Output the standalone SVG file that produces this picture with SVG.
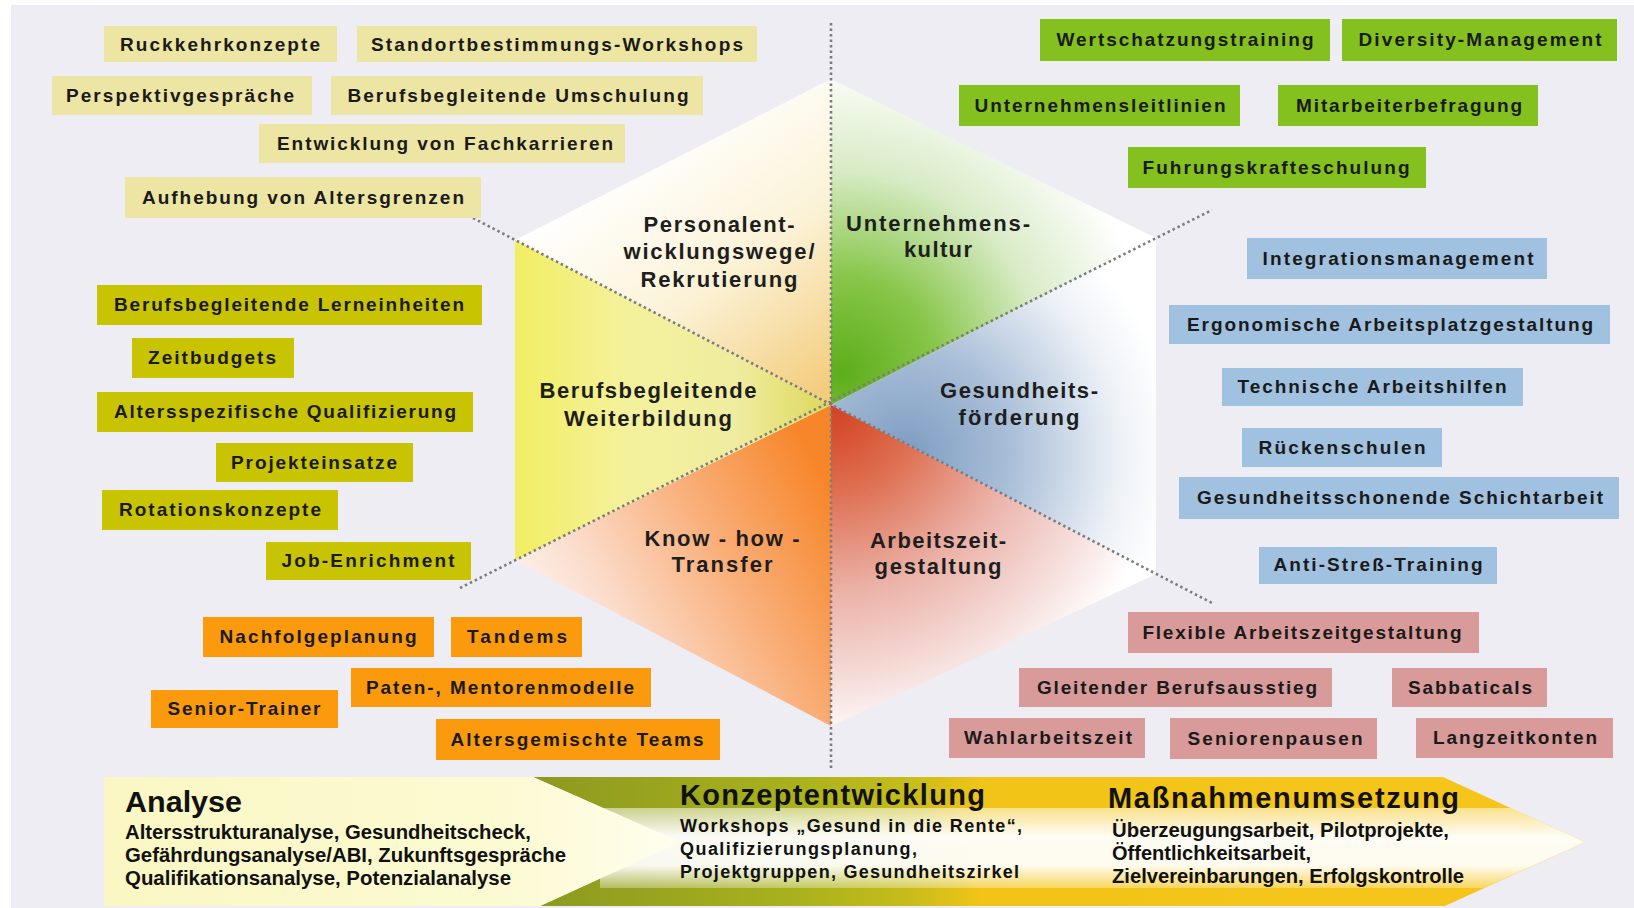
<svg xmlns="http://www.w3.org/2000/svg" width="1634" height="908" viewBox="0 0 1634 908">
<defs>
<style>
.bx text{font-family:"Liberation Sans",Arial,sans-serif;font-weight:bold;font-size:19px;fill:#1a1a1a;text-anchor:middle}
.kh rect{fill:#EDE5A4}
.ol rect{fill:#C8C402}
.or rect{fill:#FA9A0C}
.gr rect{fill:#84C11F}
.bl rect{fill:#A0C1E0}
.pk rect{fill:#D99A9A}
.sl{font-family:"Liberation Sans",Arial,sans-serif;font-weight:bold;font-size:22px;fill:#1e1e1e;text-anchor:middle}
.ph{font-family:"Liberation Sans",Arial,sans-serif;font-weight:bold;fill:#111}
.ph .t{font-size:29px}
.ph .s{font-size:18px}
.ph .n{font-size:20px}
.dot{fill:none;stroke:#7c7c80;stroke-width:2.6;stroke-dasharray:2.5 3}
</style>
<linearGradient id="gS1" gradientUnits="userSpaceOnUse" x1="640" y1="150" x2="815" y2="395">
<stop offset="0" stop-color="#FFFFFF"/><stop offset="0.5" stop-color="#FBF2D6"/><stop offset="1" stop-color="#F3CD7E"/>
</linearGradient>
<radialGradient id="gS2" gradientUnits="userSpaceOnUse" cx="842" cy="372" r="310">
<stop offset="0" stop-color="#5DAE1A"/><stop offset="0.3" stop-color="#86C548"/><stop offset="0.65" stop-color="#D8EBC6"/><stop offset="1" stop-color="#FFFFFF"/>
</radialGradient>
<radialGradient id="gS3" gradientUnits="userSpaceOnUse" cx="905" cy="455" r="270">
<stop offset="0" stop-color="#7D9CC2"/><stop offset="0.4" stop-color="#AABFD8"/><stop offset="0.8" stop-color="#EEF2F7"/><stop offset="1" stop-color="#FFFFFF"/>
</radialGradient>
<radialGradient id="gS4" gradientUnits="userSpaceOnUse" cx="831" cy="405" r="340">
<stop offset="0" stop-color="#D2401F"/><stop offset="0.25" stop-color="#DE6E50"/><stop offset="0.55" stop-color="#EBB2A8"/><stop offset="0.85" stop-color="#F7E4E2"/><stop offset="1" stop-color="#FFFFFF"/>
</radialGradient>
<linearGradient id="gS5" gradientUnits="userSpaceOnUse" x1="831" y1="490" x2="560" y2="640">
<stop offset="0" stop-color="#F7862A"/><stop offset="0.4" stop-color="#F9AE78"/><stop offset="0.8" stop-color="#FBDCCB"/><stop offset="1" stop-color="#FDEEE6"/>
</linearGradient>
<linearGradient id="gS6" gradientUnits="userSpaceOnUse" x1="515" y1="0" x2="831" y2="0">
<stop offset="0" stop-color="#F2EE62"/><stop offset="0.35" stop-color="#F4F19C"/><stop offset="0.7" stop-color="#F0ECA0"/><stop offset="1" stop-color="#DCD85A"/>
</linearGradient>
<linearGradient id="gArrow" gradientUnits="userSpaceOnUse" x1="540" y1="0" x2="1500" y2="0">
<stop offset="0" stop-color="#8C9A20"/><stop offset="0.27" stop-color="#A9B21C"/><stop offset="0.38" stop-color="#C5BC1A"/><stop offset="0.46" stop-color="#F2C417"/><stop offset="1" stop-color="#F6C51C"/>
</linearGradient>
<linearGradient id="gStreak" gradientUnits="userSpaceOnUse" x1="0" y1="808" x2="0" y2="888">
<stop offset="0" stop-color="#FFFFFF" stop-opacity="0.5"/><stop offset="0.35" stop-color="#FFFFFF" stop-opacity="0.95"/><stop offset="0.72" stop-color="#FFFFFF" stop-opacity="0.93"/><stop offset="1" stop-color="#FFFFFF" stop-opacity="0.3"/>
</linearGradient>
<linearGradient id="gPale" gradientUnits="userSpaceOnUse" x1="104" y1="0" x2="680" y2="0">
<stop offset="0" stop-color="#FAF7C4"/><stop offset="0.7" stop-color="#FCFAD2"/><stop offset="1" stop-color="#FFFEEE"/>
</linearGradient>
</defs>

<rect x="0" y="0" width="1634" height="908" fill="#FFFFFF"/>
<rect x="11" y="5" width="1623" height="903" fill="#EEEDF3"/>

<g id="hexagon">
<polygon points="831,405 515,240 831,79" fill="url(#gS1)"/>
<polygon points="831,405 831,79 1156,238" fill="url(#gS2)"/>
<polygon points="831,405 1156,238 1156,574" fill="url(#gS3)"/>
<polygon points="831,405 1156,574 831,726" fill="url(#gS4)"/>
<polygon points="831,405 831,726 515,560" fill="url(#gS5)"/>
<polygon points="831,405 515,560 515,240" fill="url(#gS6)"/>
</g>

<g id="connectors">
<line class="dot" x1="831" y1="23" x2="831" y2="769"/>
<line class="dot" x1="473" y1="218" x2="1212" y2="603"/>
<line class="dot" x1="460" y1="588" x2="1212" y2="210"/>
</g>

<g id="sector-labels">
<text class="sl" x="719" y="232" textLength="151">Personalent-</text>
<text class="sl" x="719" y="259" textLength="191">wicklungswege/</text>
<text class="sl" x="719" y="287" textLength="157">Rekrutierung</text>
<text class="sl" x="938" y="231" textLength="184">Unternehmens-</text>
<text class="sl" x="938" y="257" textLength="68">kultur</text>
<text class="sl" x="648" y="398" textLength="217">Berufsbegleitende</text>
<text class="sl" x="648" y="426" textLength="168">Weiterbildung</text>
<text class="sl" x="1019" y="398" textLength="158">Gesundheits-</text>
<text class="sl" x="1019" y="425" textLength="121">förderung</text>
<text class="sl" x="722" y="546" textLength="155">Know - how -</text>
<text class="sl" x="722" y="572" font-size="20" textLength="101">Transfer</text>
<text class="sl" x="938" y="548" textLength="136">Arbeitszeit-</text>
<text class="sl" x="938" y="574" font-size="20" textLength="127">gestaltung</text>
</g>

<g class="bx kh">
<g id="n-rueckkehr"><rect x="104" y="26" width="233" height="36"/><text x="220" y="51" textLength="200">Ruckkehrkonzepte</text></g>
<g id="n-standort"><rect x="357" y="26" width="400" height="36"/><text x="557" y="51" textLength="372">Standortbestimmungs-Workshops</text></g>
<g id="n-perspektiv"><rect x="52" y="76" width="260" height="39"/><text x="180" y="102" textLength="228">Perspektivgespräche</text></g>
<g id="n-umschulung"><rect x="331" y="76" width="372" height="39"/><text x="518" y="102" textLength="341">Berufsbegleitende Umschulung</text></g>
<g id="n-fachkarrieren"><rect x="259" y="124" width="366" height="39"/><text x="445" y="150" textLength="336">Entwicklung von Fachkarrieren</text></g>
<g id="n-altersgrenzen"><rect x="125" y="177" width="356" height="41"/><text x="303" y="204" textLength="322">Aufhebung von Altersgrenzen</text></g>
</g>

<g class="bx ol">
<g id="n-lerneinheiten"><rect x="97" y="285" width="385" height="40"/><text x="289" y="311" textLength="350">Berufsbegleitende Lerneinheiten</text></g>
<g id="n-zeitbudgets"><rect x="132" y="338" width="162" height="40"/><text x="212" y="364" textLength="128">Zeitbudgets</text></g>
<g id="n-qualifizierung"><rect x="97" y="392" width="376" height="40"/><text x="285" y="418" textLength="342">Altersspezifische Qualifizierung</text></g>
<g id="n-projekteinsatze"><rect x="216" y="443" width="197" height="39"/><text x="314" y="469" textLength="166">Projekteinsatze</text></g>
<g id="n-rotation"><rect x="102" y="490" width="236" height="40"/><text x="220" y="516" textLength="202">Rotationskonzepte</text></g>
<g id="n-jobenrichment"><rect x="266" y="542" width="205" height="38"/><text x="368" y="567" font-size="17" textLength="173">Job-Enrichment</text></g>
</g>

<g class="bx or">
<g id="n-nachfolge"><rect x="203" y="617" width="231" height="40"/><text x="318" y="643" textLength="197">Nachfolgeplanung</text></g>
<g id="n-tandems"><rect x="451" y="617" width="131" height="40"/><text x="517" y="643" textLength="100">Tandems</text></g>
<g id="n-paten"><rect x="351" y="668" width="300" height="39"/><text x="500" y="694" textLength="268">Paten-, Mentorenmodelle</text></g>
<g id="n-senior"><rect x="151" y="690" width="187" height="38"/><text x="244" y="715" textLength="153">Senior-Trainer</text></g>
<g id="n-teams"><rect x="436" y="719" width="284" height="41"/><text x="577" y="746" textLength="253">Altersgemischte Teams</text></g>
</g>

<g class="bx gr">
<g id="n-wertschatzung"><rect x="1040" y="19" width="290" height="42"/><text x="1185" y="46" textLength="257">Wertschatzungstraining</text></g>
<g id="n-diversity"><rect x="1342" y="19" width="275" height="42"/><text x="1480" y="46" textLength="243">Diversity-Management</text></g>
<g id="n-leitlinien"><rect x="959" y="85" width="281" height="41"/><text x="1100" y="112" textLength="251">Unternehmensleitlinien</text></g>
<g id="n-befragung"><rect x="1278" y="85" width="260" height="41"/><text x="1409" y="112" textLength="226">Mitarbeiterbefragung</text></g>
<g id="n-fuhrung"><rect x="1128" y="147" width="298" height="41"/><text x="1276" y="174" textLength="267">Fuhrungskrafteschulung</text></g>
</g>

<g class="bx bl">
<g id="n-integration"><rect x="1247" y="238" width="300" height="41"/><text x="1398" y="265" textLength="271">Integrationsmanagement</text></g>
<g id="n-ergonomie"><rect x="1169" y="305" width="441" height="39"/><text x="1390" y="331" textLength="406">Ergonomische Arbeitsplatzgestaltung</text></g>
<g id="n-technisch"><rect x="1222" y="368" width="301" height="38"/><text x="1372" y="393" textLength="269">Technische Arbeitshilfen</text></g>
<g id="n-ruecken"><rect x="1242" y="428" width="200" height="39"/><text x="1342" y="454" textLength="167">Rückenschulen</text></g>
<g id="n-schicht"><rect x="1179" y="477" width="440" height="42"/><text x="1400" y="504" textLength="406">Gesundheitsschonende Schichtarbeit</text></g>
<g id="n-antistress"><rect x="1259" y="547" width="238" height="37"/><text x="1378" y="571" font-size="17" textLength="209">Anti-Streß-Training</text></g>
</g>

<g class="bx pk">
<g id="n-flexibel"><rect x="1128" y="612" width="351" height="41"/><text x="1302" y="639" textLength="319">Flexible Arbeitszeitgestaltung</text></g>
<g id="n-gleitend"><rect x="1019" y="668" width="313" height="39"/><text x="1177" y="694" textLength="280">Gleitender Berufsausstieg</text></g>
<g id="n-sabbaticals"><rect x="1392" y="668" width="155" height="39"/><text x="1470" y="694" textLength="124">Sabbaticals</text></g>
<g id="n-wahlarbeit"><rect x="949" y="718" width="196" height="40"/><text x="1048" y="744" textLength="168">Wahlarbeitszeit</text></g>
<g id="n-seniorenpausen"><rect x="1170" y="718" width="207" height="41"/><text x="1275" y="745" textLength="175">Seniorenpausen</text></g>
<g id="n-langzeit"><rect x="1416" y="718" width="197" height="40"/><text x="1515" y="744" textLength="164">Langzeitkonten</text></g>
</g>

<g id="phase-band">
<polygon points="533,777 1443,777 1585,842 1445,906 540,906 680,842" fill="url(#gArrow)"/>
<polygon points="600,808 1511,808 1585,842 1484,888 600,888" fill="url(#gStreak)"/>
<polygon points="104,777 533,777 680,842 540,906 104,906" fill="url(#gPale)"/>
</g>

<g id="phase-analyse" class="ph">
<text class="t" x="125" y="812" font-size="32" textLength="117" lengthAdjust="spacingAndGlyphs">Analyse</text>
<text class="n" x="125" y="839" textLength="406" lengthAdjust="spacingAndGlyphs">Altersstrukturanalyse, Gesundheitscheck,</text>
<text class="n" x="125" y="862" textLength="441" lengthAdjust="spacingAndGlyphs">Gefährdungsanalyse/ABI, Zukunftsgespräche</text>
<text class="n" x="125" y="885" textLength="386" lengthAdjust="spacingAndGlyphs">Qualifikationsanalyse, Potenzialanalyse</text>
</g>
<g id="phase-konzept" class="ph">
<text class="t" x="680" y="805" textLength="305">Konzeptentwicklung</text>
<text class="s" x="680" y="832" textLength="342">Workshops „Gesund in die Rente“,</text>
<text class="s" x="680" y="855" textLength="237">Qualifizierungsplanung,</text>
<text class="s" x="680" y="878" textLength="339">Projektgruppen, Gesundheitszirkel</text>
</g>
<g id="phase-massnahmen" class="ph">
<text class="t" x="1108" y="808" textLength="351">Maßnahmenumsetzung</text>
<text class="n" x="1112" y="837" textLength="337" lengthAdjust="spacingAndGlyphs">Überzeugungsarbeit, Pilotprojekte,</text>
<text class="n" x="1112" y="860" textLength="199" lengthAdjust="spacingAndGlyphs">Öffentlichkeitsarbeit,</text>
<text class="n" x="1112" y="883" textLength="352" lengthAdjust="spacingAndGlyphs">Zielvereinbarungen, Erfolgskontrolle</text>
</g>
</svg>
